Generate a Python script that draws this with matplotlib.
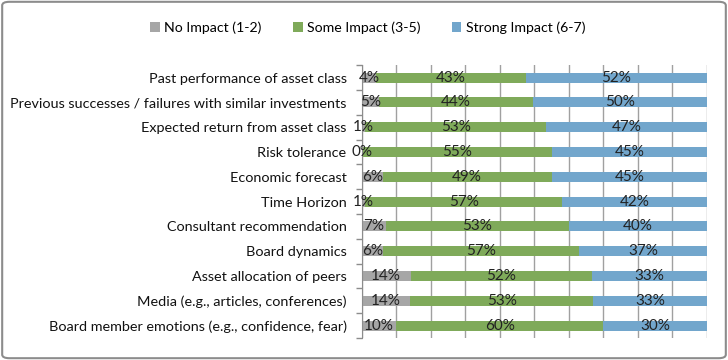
import matplotlib
matplotlib.use("Agg")
import matplotlib.pyplot as plt
from matplotlib.patches import FancyBboxPatch, Patch
import numpy as np

categories = [
    "Past performance of asset class",
    "Previous successes / failures with similar investments",
    "Expected return from asset class",
    "Risk tolerance",
    "Economic forecast",
    "Time Horizon",
    "Consultant recommendation",
    "Board dynamics",
    "Asset allocation of peers",
    "Media (e.g., articles, conferences)",
    "Board member emotions (e.g., confidence, fear)",
]
no_impact = [4, 5, 1, 0, 6, 1, 7, 6, 14, 14, 10]
some_impact = [43, 44, 53, 55, 49, 57, 53, 57, 52, 53, 60]
strong_impact = [52, 50, 47, 45, 45, 42, 40, 37, 33, 33, 30]
series_names = ["No Impact (1-2)", "Some Impact (3-5)", "Strong Impact (6-7)"]
colors = ["#A6A6A6", "#7FAA5A", "#72A6CC"]

plt.rcParams['font.family'] = ['Lato', 'DejaVu Sans']

fig = plt.figure(figsize=(7.28, 3.6), dpi=100)
ax = fig.add_axes([0.497, 0.061, 0.474, 0.758])

data = np.array([no_impact, some_impact, strong_impact], dtype=float)
totals = data.sum(axis=0)
shares = data / totals
y = np.arange(len(categories))
left = np.zeros(len(categories))
for i in range(3):
    ax.barh(y, shares[i], left=left, height=0.4, color=colors[i], label=series_names[i], zorder=2)
    for j in range(len(categories)):
        cx = left[j] + shares[i][j] / 2
        ax.text(cx, y[j], f"{int(data[i][j])}%", ha="center", va="center",
                fontsize=11, color="#222222", zorder=3)
    left += shares[i]

ax.set_xlim(0, 1)
ax.set_ylim(len(categories) - 0.55, -0.45)
ax.set_xticks(np.arange(0, 1.01, 0.1))
ax.set_xticklabels([])
ax.tick_params(axis="x", length=0)
ax.grid(axis="x", color="#A0A0A0", linewidth=1, zorder=0)
ax.set_yticks(y)
ax.set_yticklabels(categories, fontsize=10.4, color="#111111")
ax.tick_params(axis="y", which="major", length=0, pad=11)
ax.set_yticks(np.arange(-0.5, len(categories), 1), minor=True)
ax.tick_params(axis="y", which="minor", length=4, color="#8C8C8C", width=1)
for s in ["top", "right", "bottom"]:
    ax.spines[s].set_visible(False)
ax.spines["left"].set_color("#8C8C8C")

handles = [Patch(facecolor=c, edgecolor="none") for c in colors]
fig.legend(handles, series_names, loc="center", bbox_to_anchor=(0.505, 0.922), ncol=3,
           frameon=False, fontsize=10.2, handlelength=0.7, handleheight=0.7,
           handletextpad=0.3, columnspacing=2.2)

border = FancyBboxPatch((0.003, 0.005), 0.994, 0.99, boxstyle="round,pad=0,rounding_size=0.01",
                        transform=fig.transFigure, fill=False, edgecolor="#8C8C8C", linewidth=1.5)
fig.patches.append(border)

fig.savefig("out.png", dpi=100)
